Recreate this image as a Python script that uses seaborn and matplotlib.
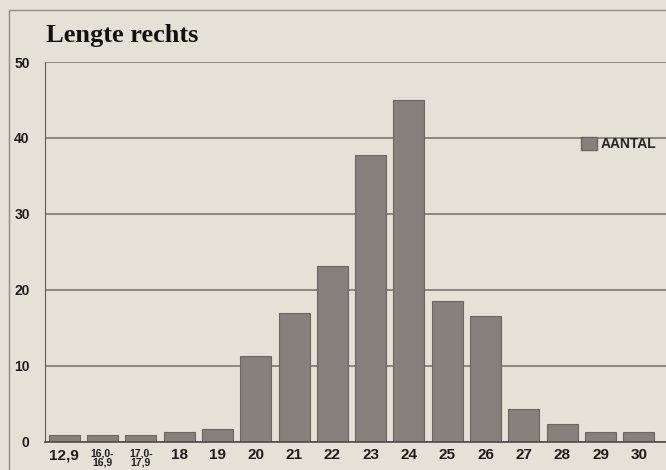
import seaborn as sns
import matplotlib
matplotlib.use('Agg')  # no display
import matplotlib.pyplot as plt
from matplotlib.patches import Patch, Rectangle
from matplotlib.ticker import FixedLocator

# data
lengths = ['12,9', '16,0-\n16,9', '17,0-\n17,9', '18', '19', '20', '21', '22',
           '23', '24', '25', '26', '27', '28', '29', '30']
counts = [0.8, 0.8, 0.8, 1.2, 1.6, 11.3, 16.9, 23.1, 37.8, 45.0, 18.5, 16.5, 4.3, 2.3, 1.2, 1.2]
y_ticks = [0, 10, 20, 30, 40, 50]

bg = '#e5e1d7'  # paper colour of the scan
bar_col = '#86807c'
edge_col = '#6c6662'
line_col = '#726e69'
text_col = '#1e1c1b'

sns.set_style('white')
plt.rcParams['font.family'] = ['Liberation Sans', 'DejaVu Sans']

W, H = 666, 470
fig = plt.figure(figsize=(W / 100, H / 100), dpi=100)
fig.patch.set_facecolor(bg)

# axes placed in pixel terms to line up with the scan
ax = fig.add_axes([45 / W, (H - 441.5) / H, (W - 45) / W, (441.5 - 62) / H])
ax.set_facecolor(bg)

sns.barplot(x=lengths, y=counts, color=bar_col, saturation=1, width=0.81,
            edgecolor=edge_col, linewidth=0.8, ax=ax)

ax.set_xlim(-0.5, 15.5 + 8 / 38.3)
ax.set_ylim(0, 50)
ax.set_yticks(y_ticks)
ax.yaxis.grid(True, color=line_col, linewidth=1.1)
ax.set_axisbelow(True)
for s in ['top', 'right']:
    ax.spines[s].set_visible(False)
ax.spines['left'].set_color('#5e5a56')
ax.spines['bottom'].set_color('#4e4a47')
ax.spines['bottom'].set_linewidth(1.2)

ax.tick_params(axis='y', length=3, color='#5e5a56', pad=8, labelsize=10, labelcolor=text_col)
ax.tick_params(axis='x', which='major', length=0, pad=5, labelsize=11, labelcolor=text_col)
ax.xaxis.set_minor_locator(FixedLocator([i - 0.5 for i in range(len(lengths) + 1)]))
ax.tick_params(axis='x', which='minor', length=4, color='#5e5a56', direction='out')
for lbl in ax.get_yticklabels():
    lbl.set_fontweight('bold')
for lbl in ax.get_xticklabels():
    lbl.set_fontweight('bold')
    if '\n' in lbl.get_text():
        lbl.set_fontsize(7.5)
        lbl.set_linespacing(0.9)
ax.set_xlabel('')
ax.set_ylabel('')

# legend at the right
ax.legend(handles=[Patch(facecolor=bar_col, edgecolor=edge_col, label='AANTAL')],
          loc='center left', bbox_to_anchor=(574 / W, 1 - 144 / H), bbox_transform=fig.transFigure,
          frameon=False, handlelength=1.15, handleheight=1.15, handletextpad=0.3, borderpad=0,
          prop={'weight': 'bold', 'size': 10})

fig.text(46 / W, 1 - 42 / H, 'Lengte rechts', family=['Liberation Serif', 'DejaVu Serif'],
         fontweight='bold', fontsize=19, color='#111', va='baseline')

# thin frame round the chart, cut off at right and bottom
fig.add_artist(Rectangle((9 / W, -0.2), 1.0, 1.2 - 10 / H, transform=fig.transFigure,
                         fill=False, edgecolor='#8e8a84', linewidth=1))

fig.savefig('out.png', dpi=100, facecolor=bg)
plt.close()
